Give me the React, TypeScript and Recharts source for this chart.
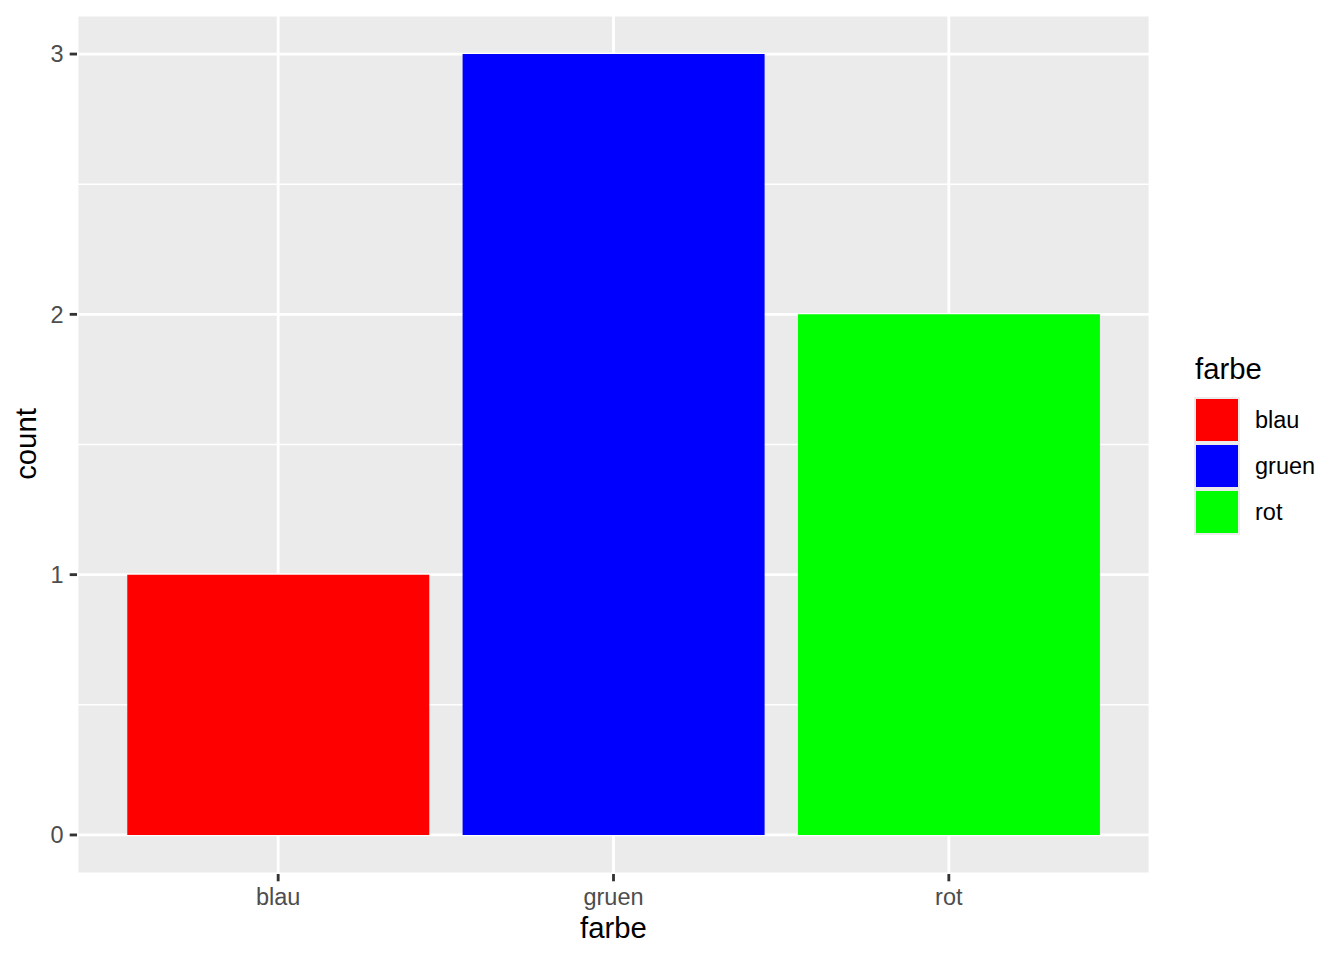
import { Bar, BarChart, CartesianGrid, Cell, XAxis, YAxis } from "recharts";

const categories = ["blau", "gruen", "rot"];
const counts = [1, 3, 2];
const fills = ["#FF0000", "#0000FF", "#00FF00"];
const majorTicks = [0, 1, 2, 3];
const minorTicks = [0.5, 1.5, 2.5];

const data = categories.map((farbe, i) => ({ farbe, count: counts[i] }));

const font = '"Liberation Sans", Arial, Helvetica, sans-serif';
const domain: [number, number] = [-0.15, 3.15];

export default function App() {
  return (
    <div style={{ position: "absolute", left: 0, top: 0, width: 1344, height: 960, background: "#fff", fontFamily: font }}>
      <BarChart
        width={1344}
        height={960}
        data={data}
        margin={{ top: 15, right: 194, bottom: 26, left: 17 }}
        barCategoryGap="5%"
      >
        <CartesianGrid fill="#EBEBEB" fillOpacity={1} stroke="#FFFFFF" strokeWidth={2.84} />
        <CartesianGrid vertical={false} horizontalValues={minorTicks} stroke="#FFFFFF" strokeWidth={1.42} />
        <XAxis
          dataKey="farbe"
          height={60}
          padding={{ left: 33.5, right: 33.5 }}
          axisLine={false}
          tickSize={7.3}
          tickMargin={7}
          tickLine={{ stroke: "#333333", strokeWidth: 2.84 }}
          tick={{ fill: "#4D4D4D", fontSize: 23.5, fontFamily: font }}
        />
        <YAxis
          type="number"
          width={60}
          domain={domain}
          ticks={majorTicks}
          allowDataOverflow
          axisLine={false}
          tickSize={7.3}
          tickMargin={6}
          tickLine={{ stroke: "#333333", strokeWidth: 2.84 }}
          tick={{ fill: "#4D4D4D", fontSize: 23.5, fontFamily: font }}
        />
        <Bar dataKey="count" isAnimationActive={false}>
          {data.map((d, i) => (
            <Cell key={d.farbe} fill={fills[i]} />
          ))}
        </Bar>
      </BarChart>
      <svg
        width={1344}
        height={960}
        style={{ position: "absolute", left: 0, top: 0, pointerEvents: "none" }}
        fontFamily={font}
      >
        <text x={613.5} y={938} textAnchor="middle" fontSize={29.3} fill="#000">
          farbe
        </text>
        <text x={36} y={444} textAnchor="middle" fontSize={29.3} fill="#000" transform="rotate(-90 36 444)">
          count
        </text>
        <text x={1195} y={379} fontSize={29.3} fill="#000">
          farbe
        </text>
        <rect x={1194} y={397} width={46} height={46 * categories.length} fill="#EBEBEB" />
        {categories.map((c, i) => (
          <g key={c}>
            <rect x={1196} y={399 + i * 46} width={42} height={42} fill={fills[i]} />
            <text x={1255} y={420 + i * 46} dy="0.355em" fontSize={23.5} fill="#000">
              {c}
            </text>
          </g>
        ))}
      </svg>
    </div>
  );
}
